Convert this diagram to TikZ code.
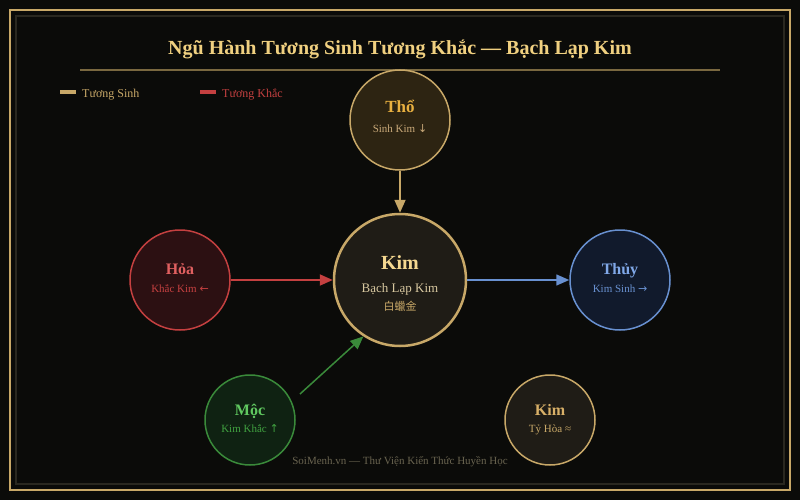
\documentclass[tikz,border=0pt]{standalone}
\usepackage{fontspec}
\setmainfont{Liberation Serif}
\newfontfamily\cjkfont{Noto Sans CJK TC}
\newfontfamily\arrfont{DejaVu Sans}
\newcommand{\ar}[1]{{\arrfont\fontsize{11}{13}\selectfont #1}}
\usetikzlibrary{arrows.meta}
\definecolor{bgc}{HTML}{0B0B09}
\definecolor{goldc}{HTML}{C8A868}
\definecolor{innerc}{HTML}{2A2820}
\definecolor{titlec}{HTML}{F0D080}
\definecolor{divc}{HTML}{7A6840}
\definecolor{redc}{HTML}{C44040}
\definecolor{thofill}{HTML}{2D2412}
\definecolor{thotitle}{HTML}{E8B040}
\definecolor{thosub}{HTML}{C8A878}
\definecolor{kimfill}{HTML}{1F1C16}
\definecolor{kimtitle}{HTML}{F5D890}
\definecolor{kimsub}{HTML}{D8C8A0}
\definecolor{hoafill}{HTML}{2C1012}
\definecolor{hoatitle}{HTML}{E06060}
\definecolor{thuyfill}{HTML}{111A2C}
\definecolor{thuyc}{HTML}{6890D0}
\definecolor{thuytitle}{HTML}{80A8E8}
\definecolor{mocfill}{HTML}{0F2212}
\definecolor{mocc}{HTML}{3A8A3A}
\definecolor{moctitle}{HTML}{60C860}
\definecolor{mocsub}{HTML}{40A040}
\definecolor{kim2title}{HTML}{D8B068}
\definecolor{footc}{HTML}{6A6450}
\tikzset{
  elem/.style={circle, inner sep=0pt, line width=1.5pt},
  ttl/.style={anchor=base, inner sep=0pt, font=\bfseries\fontsize{16}{18}\selectfont},
  sub/.style={anchor=base, inner sep=0pt, font=\fontsize{11}{13}\selectfont},
  conn/.style={line width=1.8pt, -{Triangle[length=13pt,width=11pt]}},
}
\begin{document}
\begin{tikzpicture}[x=1pt,y=-1pt]
\useasboundingbox (0,0) rectangle (800,500);
\fill[bgc] (0,0) rectangle (800,500);
\draw[goldc, line width=2pt] (10,10) rectangle (790,490);
\draw[innerc, line width=1.5pt] (16,16) rectangle (784,484);
\node[anchor=base, inner sep=0pt, text=titlec, font=\bfseries\fontsize{20}{24}\selectfont] (title) at (400,55) {Ngũ Hành Tương Sinh Tương Khắc — Bạch Lạp Kim};
\coordinate (divl) at (80,70);
\coordinate (divr) at (720,70);
\draw[divc, line width=2pt] (divl) -- (divr);
% legend
\fill[goldc] (60,90) rectangle (76,94);
\node[anchor=base west, inner sep=0pt, text=goldc, font=\fontsize{12}{14}\selectfont] (legs) at (82,98) {Tương Sinh};
\fill[redc] (200,90) rectangle (216,94);
\node[anchor=base west, inner sep=0pt, text=redc, font=\fontsize{12}{14}\selectfont] (legk) at (222,98) {Tương Khắc};
% circles
\node[elem, minimum size=100pt, fill=thofill, draw=goldc] (tho) at (400,120) {};
\node[elem, minimum size=132pt, fill=kimfill, draw=goldc, line width=2.5pt] (kim) at (400,280) {};
\node[elem, minimum size=100pt, fill=hoafill, draw=redc] (hoa) at (180,280) {};
\node[elem, minimum size=100pt, fill=thuyfill, draw=thuyc] (thuy) at (620,280) {};
\node[elem, minimum size=90pt, fill=mocfill, draw=mocc] (moc) at (250,420) {};
\node[elem, minimum size=90pt, fill=kimfill, draw=goldc] (kim2) at (550,420) {};
% texts
\node[ttl, text=thotitle, font=\bfseries\fontsize{17}{19}\selectfont] (thot) at (400,113) {Thổ};
\node[sub, text=thosub] (thos) at (400,132) {Sinh Kim \ar{↓}};
\node[ttl, text=kimtitle, font=\bfseries\fontsize{20}{22}\selectfont] (kimt) at (400,269) {Kim};
\node[sub, text=kimsub, font=\fontsize{13}{15}\selectfont] (kims) at (400,292) {Bạch Lạp Kim};
\node[sub, text=goldc, font=\cjkfont\fontsize{11}{13}\selectfont] (kimc) at (400,310) {白蠟金};
\node[ttl, text=hoatitle] (hoat) at (180,274) {Hỏa};
\node[sub, text=redc] (hoas) at (180,292) {Khắc Kim \ar{←}};
\node[ttl, text=thuytitle] (thuyt) at (620,274) {Thủy};
\node[sub, text=thuyc] (thuys) at (620,292) {Kim Sinh \ar{→}};
\node[ttl, text=moctitle] (moct) at (250,415) {Mộc};
\node[sub, text=mocsub] (mocs) at (250,432) {Kim Khắc \ar{↑}};
\node[ttl, text=kim2title] (kim2t) at (550,415) {Kim};
\node[sub, text=goldc] (kim2s) at (550,432) {Tỷ Hòa ≈};
\node[anchor=base, inner sep=0pt, text=footc, font=\fontsize{11}{13}\selectfont] (foot) at (400,464) {SoiMenh.vn — Thư Viện Kiến Thức Huyền Học};
% connectors
\draw[conn, goldc] (tho) -- (kim);
\draw[conn, redc] (hoa) -- (kim);
\draw[conn, thuyc, line width=1.5pt] (kim) -- (thuy);
\coordinate (mocout) at (300,394);
\draw[conn, mocc, line width=1.5pt] (mocout) -- (kim.237);
\end{tikzpicture}
\end{document}
